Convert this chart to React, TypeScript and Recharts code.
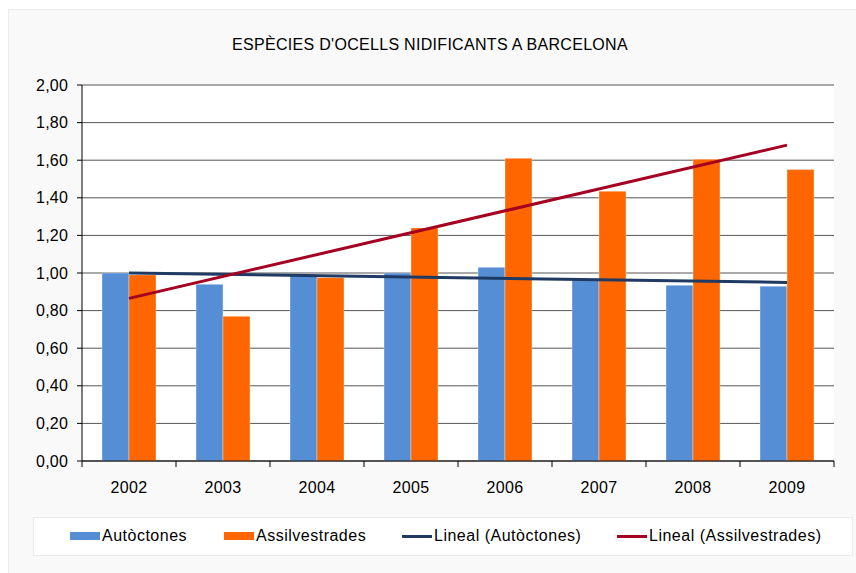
import React from 'react';
import { ComposedChart, Bar, Line, XAxis, YAxis, CartesianGrid } from 'recharts';

const years = ['2002', '2003', '2004', '2005', '2006', '2007', '2008', '2009'];
const autoctones = [1.0, 0.94, 0.99, 1.0, 1.03, 0.965, 0.935, 0.93];
const assilvestrades = [0.99, 0.77, 0.975, 1.24, 1.61, 1.435, 1.605, 1.55];
const trendAutoctones: (number | null)[] = [1.0, null, null, null, null, null, null, 0.95];
const trendAssilvestrades: (number | null)[] = [0.865, null, null, null, null, null, null, 1.68];
const yTicks = [0, 0.2, 0.4, 0.6, 0.8, 1.0, 1.2, 1.4, 1.6, 1.8, 2.0];

const TITLE = "ESPÈCIES D'OCELLS NIDIFICANTS A BARCELONA";
const FONT = '"Liberation Sans", Arial, sans-serif';

const BLUE = '#558ED5';
const ORANGE = '#FF6600';
const NAVY = '#1F3B64';
const RED = '#A50021';

const data = years.map((y, i) => ({
  year: y,
  autoctones: autoctones[i],
  assilvestrades: assilvestrades[i],
  trendA: trendAutoctones[i],
  trendB: trendAssilvestrades[i],
}));

const PLOT_LEFT = 82;
const PLOT_RIGHT = 834;
const PLOT_TOP = 85;
const PLOT_BOTTOM = 461;
const BAND = (PLOT_RIGHT - PLOT_LEFT) / years.length;

const XTick = (props: any) => {
  const { x, y, payload, index } = props;
  return (
    <g>
      <line x1={x - BAND / 2} x2={x - BAND / 2} y1={y} y2={y + 6} stroke="#000" strokeWidth={1} />
      {index === years.length - 1 && (
        <line x1={x + BAND / 2} x2={x + BAND / 2} y1={y} y2={y + 6} stroke="#000" strokeWidth={1} />
      )}
      <text x={x} y={y + 32} textAnchor="middle" fontFamily={FONT} fontSize={16} letterSpacing={0.4} fill="#000">
        {payload.value}
      </text>
    </g>
  );
};

const legendItems = [
  { label: 'Autòctones', kind: 'box', color: BLUE, x: 70 },
  { label: 'Assilvestrades', kind: 'box', color: ORANGE, x: 224 },
  { label: 'Lineal (Autòctones)', kind: 'line', color: NAVY, x: 402 },
  { label: 'Lineal (Assilvestrades)', kind: 'line', color: RED, x: 617 },
];

export default function App() {
  return (
    <div style={{ position: 'absolute', left: 0, top: 0, width: 856, height: 573, background: '#ffffff', overflow: 'hidden' }}>
      <div
        style={{
          position: 'absolute',
          left: 8,
          top: 9,
          width: 860,
          height: 580,
          background: '#f9f9f9',
          border: '1px solid #ececec',
        }}
      />
      <div
        style={{
          position: 'absolute',
          left: 0,
          width: 856,
          top: 36,
          textAlign: 'center',
          fontFamily: FONT,
          fontSize: 16,
          letterSpacing: 0.3,
          color: '#000',
          paddingLeft: 2,
        }}
      >
        {TITLE}
      </div>
      <div style={{ position: 'absolute', left: 0, top: 0 }}>
        <ComposedChart
          width={856}
          height={573}
          data={data}
          margin={{ top: PLOT_TOP, right: 856 - PLOT_RIGHT, bottom: 573 - PLOT_BOTTOM - 40, left: PLOT_LEFT - 60 }}
          barGap={0}
        >
          <CartesianGrid vertical={false} stroke="#555555" fill="#ffffff" />
          <XAxis
            dataKey="year"
            height={40}
            axisLine={{ stroke: '#000' }}
            tickLine={false}
            tickSize={0}
            tickMargin={0}
            interval={0}
            tick={<XTick />}
          />
          <YAxis
            width={60}
            domain={[0, 2]}
            ticks={yTicks}
            interval={0}
            axisLine={{ stroke: '#000' }}
            tickLine={{ stroke: '#000' }}
            tickSize={5}
            tickMargin={9}
            tickFormatter={(v: number) => v.toFixed(2).replace('.', ',')}
            tick={{ fill: '#000', fontFamily: FONT, fontSize: 16, letterSpacing: 0.2 }}
          />
          <YAxis
            yAxisId="right"
            orientation="right"
            width={0}
            domain={[0, 2]}
            tick={false}
            tickLine={false}
            axisLine={{ stroke: '#a6a6a6' }}
          />
          <Bar dataKey="autoctones" fill={BLUE} barSize={27} stroke="#ffffff" strokeOpacity={0.35} strokeWidth={1} isAnimationActive={false} />
          <Bar dataKey="assilvestrades" fill={ORANGE} barSize={27} stroke="#ffffff" strokeOpacity={0.35} strokeWidth={1} isAnimationActive={false} />
          <Line dataKey="trendA" stroke={NAVY} strokeWidth={3} dot={false} connectNulls isAnimationActive={false} />
          <Line dataKey="trendB" stroke={RED} strokeWidth={3} dot={false} connectNulls isAnimationActive={false} />
        </ComposedChart>
      </div>
      <div
        style={{
          position: 'absolute',
          left: 33,
          top: 517,
          width: 818,
          height: 37,
          background: '#ffffff',
          border: '1px solid #ebebeb',
        }}
      />
      {legendItems.map((it) => (
        <div key={it.label} style={{ position: 'absolute', left: it.x, top: 526, height: 20, display: 'flex', alignItems: 'center' }}>
          {it.kind === 'box' ? (
            <div style={{ width: 30, height: 8, background: it.color }} />
          ) : (
            <div style={{ width: 30, height: 3, background: it.color }} />
          )}
          <span style={{ marginLeft: 2, fontFamily: FONT, fontSize: 16, letterSpacing: 0.5, color: '#000' }}>{it.label}</span>
        </div>
      ))}
    </div>
  );
}
